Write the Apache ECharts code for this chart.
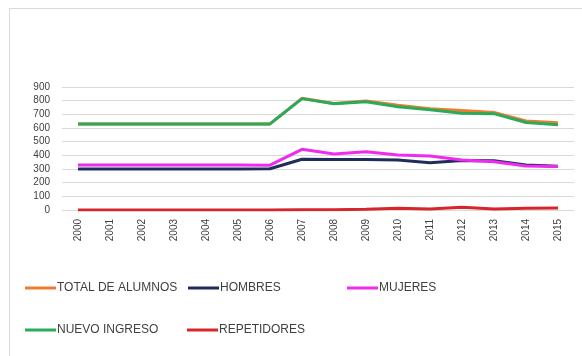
<!DOCTYPE html>
<html lang="es">
<head>
<meta charset="UTF-8">
<title>Alumnos</title>
<script src="https://cdn.jsdelivr.net/npm/echarts@6/dist/echarts.min.js"></script>
<style>
    html, body { margin: 0; padding: 0; background: #fff; }
    #frame { position: absolute; left: 9px; top: 8px; width: 600px; height: 400px;
             border-top: 1px solid #d9d9d9; border-left: 1px solid #d9d9d9; }
    #chart { position: absolute; left: 0; top: 0; width: 582px; height: 356px; }
</style>
</head>
<body>
<div id="frame"></div>
<div id="chart"></div>
<script>
    var years = ['2000','2001','2002','2003','2004','2005','2006','2007','2008','2009','2010','2011','2012','2013','2014','2015'];
    var total       = [630, 630, 630, 630, 630, 630, 630, 817, 780, 797, 767, 741, 728, 713, 652, 638];
    var hombres     = [300, 300, 300, 300, 300, 300, 302, 371, 370, 370, 365, 346, 362, 360, 330, 320];
    var mujeres     = [330, 330, 330, 330, 330, 330, 328, 444, 410, 427, 402, 395, 366, 353, 322, 318];
    var nuevo       = [630, 630, 630, 630, 630, 630, 630, 815, 778, 792, 755, 733, 708, 705, 640, 624];
    var repetidores = [0, 0, 0, 0, 0, 0, 0, 2, 2, 5, 12, 8, 20, 8, 12, 14];

    var names  = ['TOTAL DE ALUMNOS', 'HOMBRES', 'MUJERES', 'NUEVO INGRESO', 'REPETIDORES'];
    var colors = ['#ed7d31', '#1f2d5c', '#ee2bee', '#2bab5a', '#d7262b'];
    var values = [total, hombres, mujeres, nuevo, repetidores];
    // legend slots (Excel style grid)
    var legendPos = [[25, 282], [188, 282], [347, 282], [25, 324], [187, 324]];

    var myChart = echarts.init(document.getElementById('chart'));

    var legends = [];
    var series = [];
    for (var i = 0; i < names.length; i++) {
        legends.push({
            data: [names[i]],
            left: legendPos[i][0],
            top: legendPos[i][1],
            icon: 'rect',
            itemWidth: 31,
            itemHeight: 3,
            itemGap: 0,
            padding: 0,
            selectedMode: false,
            textStyle: { color: '#404040', fontSize: 12, fontFamily: 'Liberation Sans Narrow, Liberation Sans, sans-serif', padding: [0, 0, 0, -4] }
        });
        series.push({
            name: names[i],
            type: 'line',
            data: values[i],
            symbol: 'none',
            z: 2 + i,
            lineStyle: { width: 3, color: colors[i] },
            itemStyle: { color: colors[i] }
        });
    }
    // total sits underneath nuevo ingreso like in the picture
    series[3].z = 1;
    series[0].z = 0;

    var option = {
        animation: false,
        color: colors,
        legend: legends,
        grid: { left: 62, right: 8, top: 87, bottom: 146 },
        xAxis: {
            type: 'category',
            data: years,
            boundaryGap: true,
            axisLine: { show: false },
            axisTick: { show: false },
            axisLabel: { rotate: 90, color: '#404040', fontSize: 10, fontFamily: 'Liberation Sans Narrow, Liberation Sans, sans-serif', margin: 9 }
        },
        yAxis: {
            type: 'value',
            min: 0,
            max: 900,
            interval: 100,
            axisLine: { show: false },
            axisTick: { show: false },
            axisLabel: { color: '#404040', fontSize: 10, fontFamily: 'Liberation Sans Narrow, Liberation Sans, sans-serif', margin: 12 },
            splitLine: { lineStyle: { color: '#d9d9d9', width: 1 } }
        },
        series: series
    };
    myChart.setOption(option);
</script>
</body>
</html>
